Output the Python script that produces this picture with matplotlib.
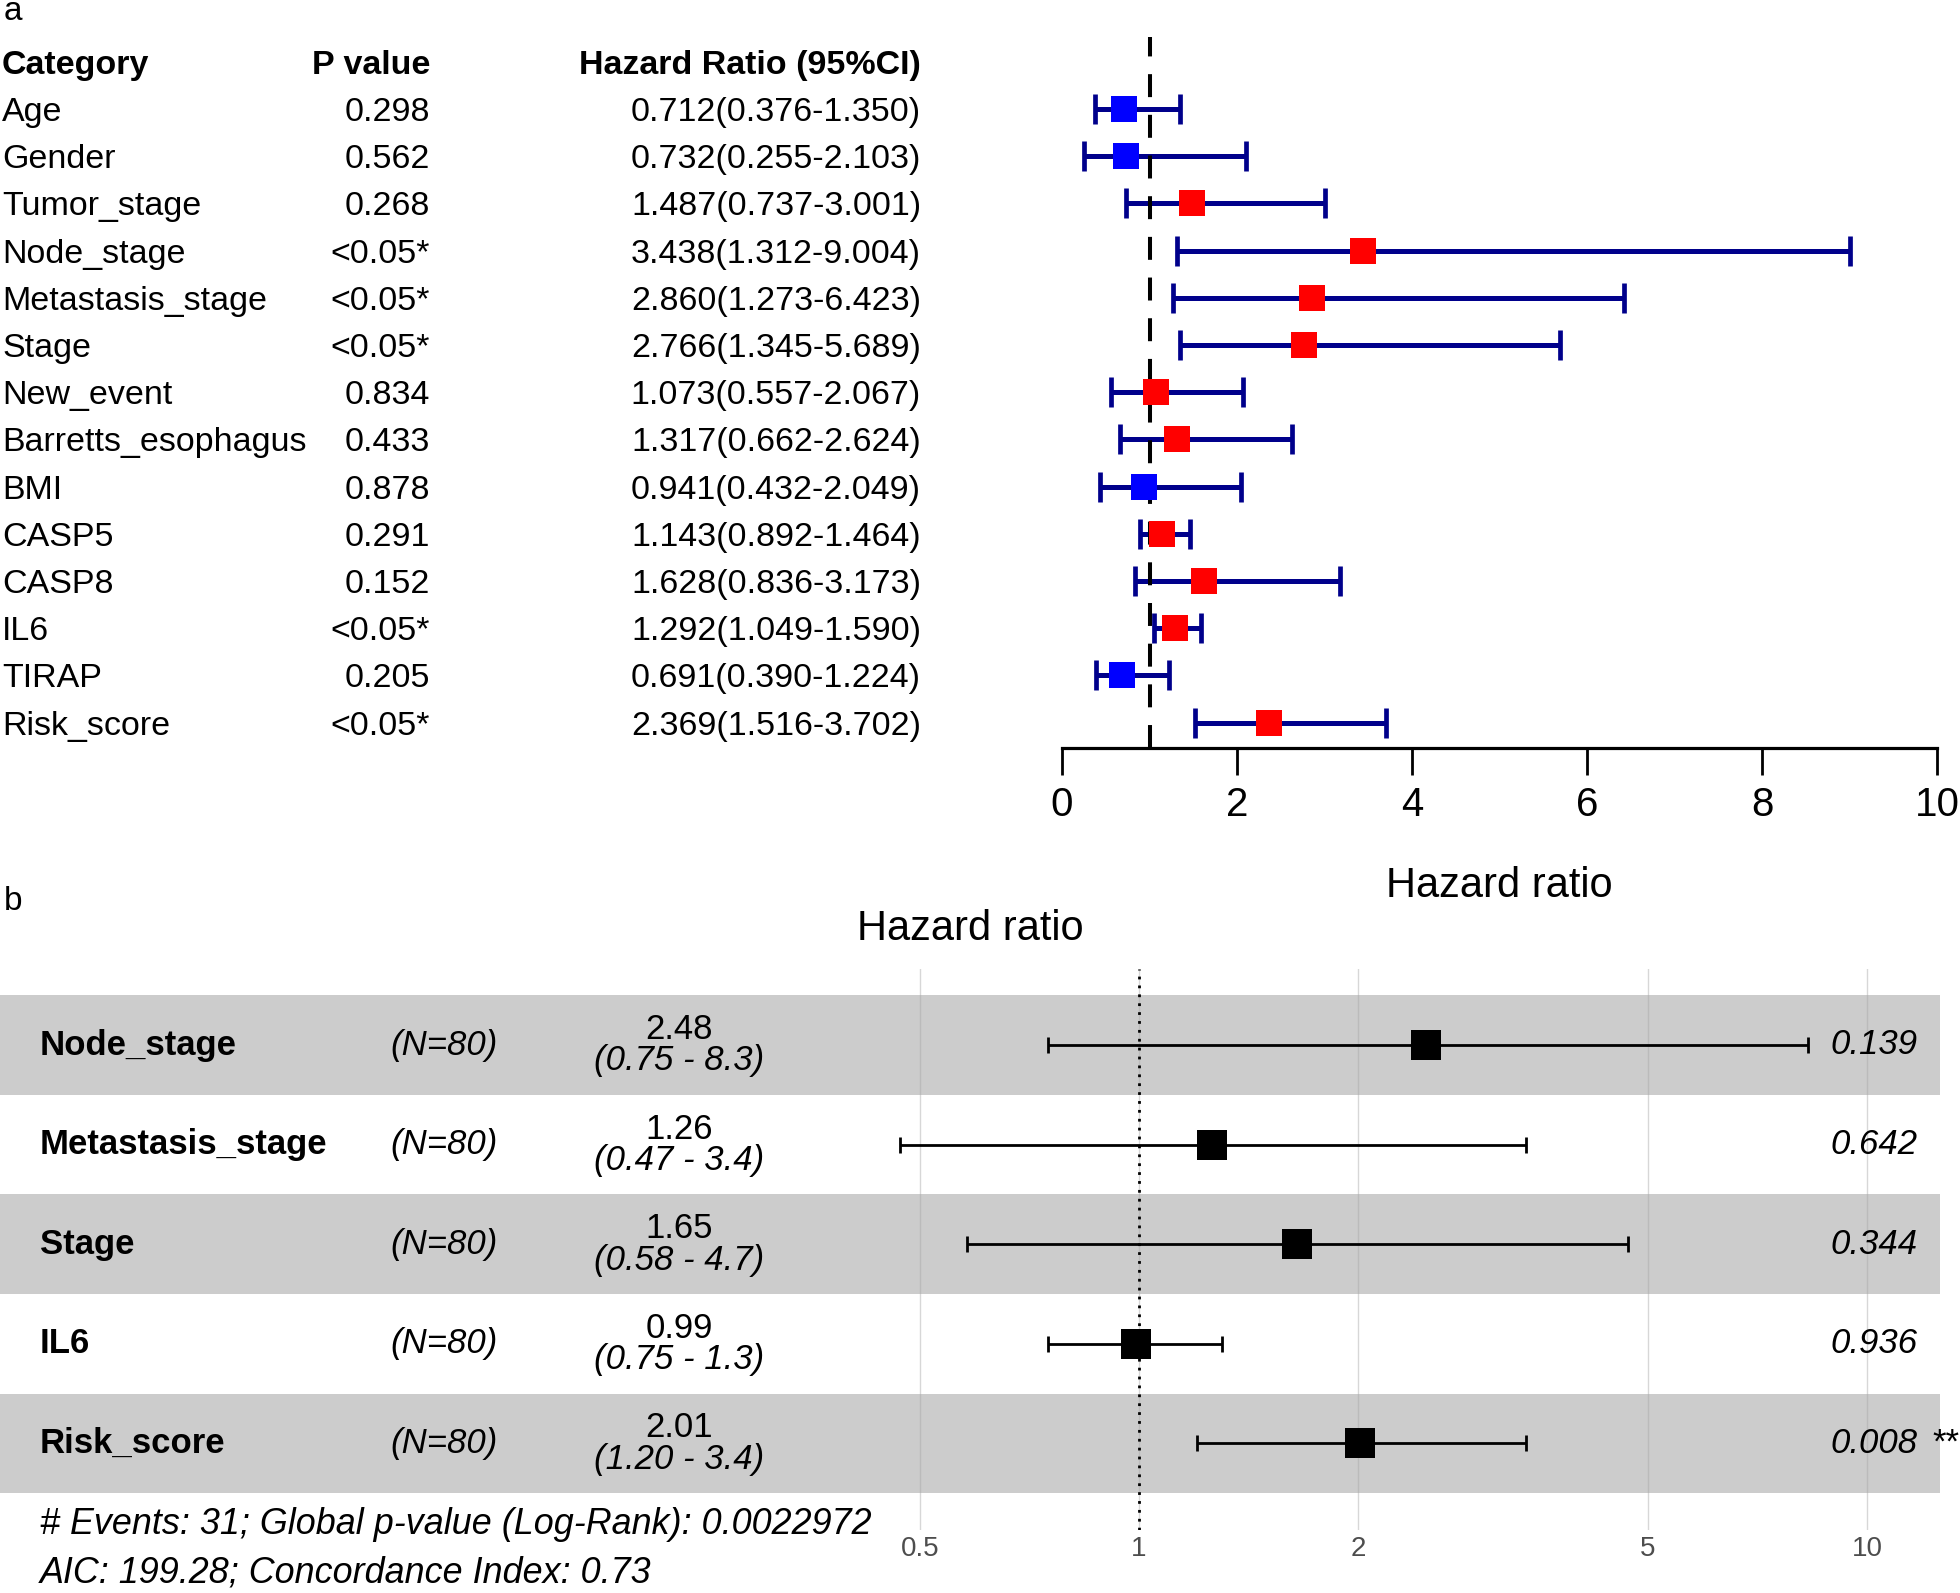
import numpy as np
import matplotlib
matplotlib.use("Agg")
import matplotlib.pyplot as plt
from matplotlib.transforms import blended_transform_factory
from matplotlib.ticker import NullLocator

plt.rcParams["font.family"] = ["Liberation Sans", "DejaVu Sans"]

# ── Data: panel a (univariate) ────────────────────────────────────────────────
categories_a = ["Age", "Gender", "Tumor_stage", "Node_stage", "Metastasis_stage",
                "Stage", "New_event", "Barretts_esophagus", "BMI", "CASP5",
                "CASP8", "IL6", "TIRAP", "Risk_score"]
pvals_a = ["0.298", "0.562", "0.268", "<0.05*", "<0.05*", "<0.05*", "0.834",
           "0.433", "0.878", "0.291", "0.152", "<0.05*", "0.205", "<0.05*"]
hr_a = [0.712, 0.732, 1.487, 3.438, 2.860, 2.766, 1.073, 1.317, 0.941, 1.143,
        1.628, 1.292, 0.691, 2.369]
lo_a = [0.376, 0.255, 0.737, 1.312, 1.273, 1.345, 0.557, 0.662, 0.432, 0.892,
        0.836, 1.049, 0.390, 1.516]
hi_a = [1.350, 2.103, 3.001, 9.004, 6.423, 5.689, 2.067, 2.624, 2.049, 1.464,
        3.173, 1.590, 1.224, 3.702]
xticks_a = [0, 2, 4, 6, 8, 10]

# ── Data: panel b (multivariate, ggforest style) ──────────────────────────────
vars_b = ["Node_stage", "Metastasis_stage", "Stage", "IL6", "Risk_score"]
n_b = ["80", "80", "80", "80", "80"]
hr_b_lbl = ["2.48", "1.26", "1.65", "0.99", "2.01"]
lo_b_lbl = ["0.75", "0.47", "0.58", "0.75", "1.20"]
hi_b_lbl = ["8.3", "3.4", "4.7", "1.3", "3.4"]
p_b = ["0.139", "0.642", "0.344", "0.936", "0.008"]
sig_b = ["", "", "", "", "**"]
xticks_b = [0.5, 1, 2, 5, 10]
footnote_b = ["# Events: 31; Global p-value (Log-Rank): 0.0022972",
              "AIC: 199.28; Concordance Index: 0.73"]

# ── Layout helpers (figure pixels) ────────────────────────────────────────────
W, H = 1960, 1593
DPI = 100


def rect(x0, y0, x1, y1):
    return [x0 / W, 1 - y1 / H, (x1 - x0) / W, (y1 - y0) / H]


fig = plt.figure(figsize=(W / DPI, H / DPI), dpi=DPI)
fig.patch.set_facecolor("white")

# ══════════════════════════════════════════════════════════════════════════════
# Panel a
# ══════════════════════════════════════════════════════════════════════════════
ROW0_A, STEP_A = 109, 47.2
TOP_A, AXIS_A = 20, 748
ax_a = fig.add_axes(rect(1062, TOP_A, 1937, AXIS_A))
ax_a.set_xlim(0, 10)
ax_a.set_ylim((AXIS_A - ROW0_A) / STEP_A, (TOP_A - ROW0_A) / STEP_A)

y_a = np.arange(len(categories_a))
hr = np.array(hr_a)
lo = np.array(lo_a)
hi = np.array(hi_a)

ax_a.errorbar(hr, y_a, xerr=[hr - lo, hi - hr], fmt="none", ecolor="#00008B",
              elinewidth=3.6, capsize=11, capthick=3.4, zorder=2)
# reference line at HR = 1, drawn bottom-up so the stub lands on top
y_bot, y_top = ax_a.get_ylim()[0], (37 - ROW0_A) / STEP_A
ax_a.plot([1, 1], [y_bot, y_top], color="black", lw=2.9,
          dashes=(5.7, 4.4), zorder=3, clip_on=False)
colors = ["#FF0000" if v > 1 else "#0000FF" for v in hr_a]
ax_a.scatter(hr, y_a, marker="s", s=350, c=colors, edgecolors="none", zorder=4)

for side in ["left", "top", "right"]:
    ax_a.spines[side].set_visible(False)
ax_a.spines["bottom"].set_bounds(0, 10)
ax_a.spines["bottom"].set_linewidth(2.3)
ax_a.set_yticks([])
ax_a.set_xticks(xticks_a)
ax_a.tick_params(axis="x", direction="out", length=19.5, width=2.0,
                 labelsize=29, pad=8)
ax_a.set_xlabel("Hazard ratio", fontsize=30, labelpad=30)

tr_a = blended_transform_factory(fig.transFigure, ax_a.transData)
hdr_kw = dict(transform=tr_a, fontsize=24.5, fontweight="bold", va="center_baseline")
ax_a.text(2 / W, -1, "Category", ha="left", **hdr_kw)
ax_a.text(430 / W, -1, "P value", ha="right", **hdr_kw)
ax_a.text(921 / W, -1, "Hazard Ratio (95%CI)", ha="right", **hdr_kw)
row_kw = dict(transform=tr_a, fontsize=24.5, va="center_baseline")
for i, name in enumerate(categories_a):
    ax_a.text(2 / W, i, name, ha="left", **row_kw)
    ax_a.text(430 / W, i, pvals_a[i], ha="right", **row_kw)
    ax_a.text(921 / W, i, f"{hr_a[i]:.3f}({lo_a[i]:.3f}-{hi_a[i]:.3f})",
              ha="right", **row_kw)

fig.text(4 / W, 1 - 12 / H, "a", fontsize=24, ha="left", va="center")

# ══════════════════════════════════════════════════════════════════════════════
# Panel b
# ══════════════════════════════════════════════════════════════════════════════
ROW0_B, STEP_B = 1045, 99.6
TOP_B, BOT_B = 969, 1530
X1_PX, DECADE_PX = 1139, 728
ax_b = fig.add_axes(rect(0, TOP_B, 1940, BOT_B))
ax_b.set_xscale("log")
ax_b.set_xlim(10 ** (-X1_PX / DECADE_PX), 10 ** ((1940 - X1_PX) / DECADE_PX))
ax_b.set_ylim((BOT_B - ROW0_B) / STEP_B, (TOP_B - ROW0_B) / STEP_B)

for i in range(len(vars_b)):
    if i % 2 == 0:
        ax_b.axhspan(i - 0.5, i + 0.5, color="#CCCCCC", lw=0, zorder=0)

ax_b.set_xticks(xticks_b)
ax_b.set_xticklabels([f"{t:g}" for t in xticks_b])
ax_b.xaxis.set_minor_locator(NullLocator())
ax_b.grid(axis="x", color="#A8A8A8", lw=1.0, alpha=0.45, zorder=1)
ax_b.set_yticks([])
for side in ax_b.spines:
    ax_b.spines[side].set_visible(False)
ax_b.tick_params(axis="x", length=0, labelsize=20, labelcolor="#4D4D4D", pad=4)
ax_b.axvline(1, color="black", lw=2.0, ls=(0, (1, 2.2)), zorder=2)

hr2 = np.array([float(v) for v in hr_b_lbl])
lo2 = np.array([float(v) for v in lo_b_lbl])
hi2 = np.array([float(v) for v in hi_b_lbl])
y_b = np.arange(len(vars_b))
ax_b.errorbar(hr2, y_b, xerr=[hr2 - lo2, hi2 - hr2], fmt="none", ecolor="black",
              elinewidth=2.0, capsize=5.8, capthick=2.0, zorder=3)
ax_b.scatter(hr2, y_b, marker="s", s=470, c="black", edgecolors="none", zorder=4)

tr_b = blended_transform_factory(fig.transFigure, ax_b.transData)
for i, name in enumerate(vars_b):
    ax_b.text(40 / W, i, name, transform=tr_b, fontsize=25, fontweight="bold",
              ha="left", va="center")
    ax_b.text(444 / W, i, f"(N={n_b[i]})", transform=tr_b, fontsize=25,
              style="italic", ha="center", va="center")
    ax_b.text(679 / W, i - 0.155, hr_b_lbl[i], transform=tr_b, fontsize=25,
              ha="center", va="center")
    ax_b.text(679 / W, i + 0.16, f"({lo_b_lbl[i]} - {hi_b_lbl[i]})",
              transform=tr_b, fontsize=25, style="italic", ha="center",
              va="center")
    ax_b.text(1918 / W, i, p_b[i], transform=tr_b, fontsize=25, style="italic",
              ha="right", va="center")
    if sig_b[i]:
        ax_b.text(1932 / W, i, sig_b[i], transform=tr_b, fontsize=25,
                  ha="left", va="center")

fig.text(970 / W, 1 - 929 / H, "Hazard ratio", fontsize=30, ha="center",
         va="center")
fig.text(40 / W, 1 - 1524 / H, footnote_b[0], fontsize=25.8, style="italic",
         ha="left", va="center")
fig.text(40 / W, 1 - 1573 / H, footnote_b[1], fontsize=25.8, style="italic",
         ha="left", va="center")
fig.text(4 / W, 1 - 902 / H, "b", fontsize=24, ha="left", va="center")

fig.savefig("out.png", dpi=DPI, facecolor="white")
plt.close(fig)
